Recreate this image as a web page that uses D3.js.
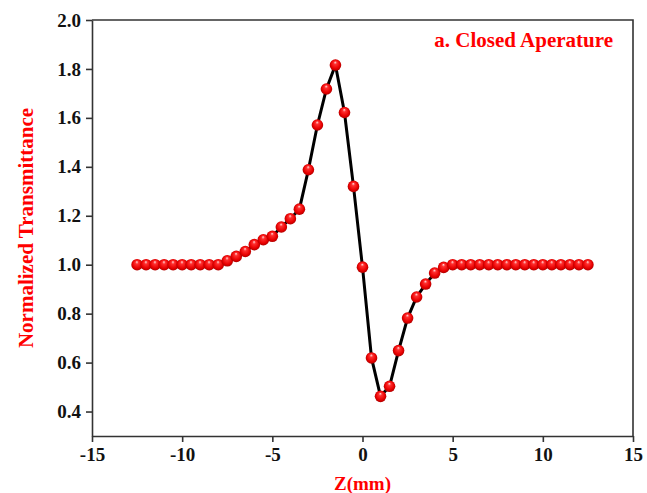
<!DOCTYPE html>
<html>
  <head>
    <meta charset="utf-8">
    <script type="text/javascript" src="https://d3js.org/d3.v7.min.js"></script>
    <title></title>
  </head>
  <style media="screen">
    body { margin: 0; background: #fff; }
    text { font-family: "Liberation Serif", "Times New Roman", serif; font-weight: bold; }
  </style>
  <body>

    <script type="text/javascript">

    // z positions (mm) and normalized transmittance
    var zValues = [-12.5, -12, -11.5, -11, -10.5, -10, -9.5, -9, -8.5, -8,
                   -7.5, -7, -6.5, -6, -5.5, -5, -4.5, -4, -3.5, -3,
                   -2.5, -2, -1.5, -1, -0.5, 0, 0.5, 1, 1.5, 2,
                   2.5, 3, 3.5, 4, 4.5, 5, 5.5, 6, 6.5, 7,
                   7.5, 8, 8.5, 9, 9.5, 10, 10.5, 11, 11.5, 12, 12.5];
    var transmittance = [1.0, 1.0, 1.0, 1.0, 1.0, 1.0, 1.0, 1.0, 1.0, 1.0,
                         1.016, 1.034, 1.054, 1.082, 1.102, 1.116, 1.154, 1.188, 1.227, 1.388,
                         1.571, 1.718, 1.816, 1.622, 1.32, 0.99, 0.619, 0.462, 0.503, 0.649,
                         0.782, 0.868, 0.921, 0.966, 0.989, 1.0, 1.0, 1.0, 1.0, 1.0,
                         1.0, 1.0, 1.0, 1.0, 1.0, 1.0, 1.0, 1.0, 1.0, 1.0, 1.0];
    var xTicks = [-15, -10, -5, 0, 5, 10, 15];
    var yTicks = [0.4, 0.6, 0.8, 1.0, 1.2, 1.4, 1.6, 1.8, 2.0];

    var data = zValues.map(function(z, i) { return {z: z, t: transmittance[i]}; });

    var margin = {top: 20, right: 14, bottom: 57, left: 92},
    width = 647 - margin.left - margin.right,
    height = 493 - margin.top - margin.bottom;

    var x = d3.scaleLinear().domain([-15, 15]).range([0, width]);
    var y = d3.scaleLinear().domain([0.3, 2.0]).range([height, 0]);

    var root = d3.select("body").append("svg")
        .attr("width", 647)
        .attr("height", 493);

    var defs = root.append("defs");
    var grad = defs.append("radialGradient")
        .attr("id", "ball")
        .attr("cx", "50%").attr("cy", "50%").attr("r", "55%")
        .attr("fx", "48%").attr("fy", "25%");
    grad.append("stop").attr("offset", "0%").attr("stop-color", "#ffe0e0");
    grad.append("stop").attr("offset", "25%").attr("stop-color", "#ff3030");
    grad.append("stop").attr("offset", "70%").attr("stop-color", "#e80000");
    grad.append("stop").attr("offset", "100%").attr("stop-color", "#a00000");

    var svg = root.append("g")
        .attr("transform", "translate(" + margin.left + "," + margin.top + ")");

    var xAxis = d3.axisBottom(x)
      .tickValues(xTicks)
      .tickSize(6)
      .tickSizeOuter(0)
      .tickFormat(function(d) { return String(d); });

    var yAxis = d3.axisLeft(y)
      .tickValues(yTicks)
      .tickSize(6)
      .tickSizeOuter(0)
      .tickFormat(d3.format(".1f"));

    var gx = svg.append("g")
        .attr("transform", "translate(0," + height + ")")
        .call(xAxis);

    var gy = svg.append("g")
        .call(yAxis);

    [gx, gy].forEach(function(g) {
      g.selectAll("path, line").attr("stroke", "#333").attr("stroke-width", 1.6);
      g.selectAll("text")
        .attr("fill", "#111")
        .style("font-size", "19px");
    });
    gx.selectAll("text").attr("y", 11).attr("dy", "0.75em");
    gy.selectAll("text").attr("x", -11);

    // top and right frame
    svg.append("path")
        .attr("d", "M0,0H" + width + "V" + height)
        .attr("fill", "none")
        .attr("stroke", "#333")
        .attr("stroke-width", 1.6);

    var line = d3.line()
      .x(function(d) { return x(d.z); })
      .y(function(d) { return y(d.t); });

    svg.append("path")
        .datum(data)
        .attr("d", line)
        .attr("fill", "none")
        .attr("stroke", "#000")
        .attr("stroke-width", 3);

    svg.selectAll(".ball")
        .data(data)
      .enter().append("circle")
        .attr("class", "ball")
        .attr("cx", function(d) { return x(d.z); })
        .attr("cy", function(d) { return y(d.t); })
        .attr("r", 5.8)
        .attr("fill", "url(#ball)");

    svg.append("text")
        .attr("x", width - 20)
        .attr("y", 27)
        .attr("text-anchor", "end")
        .attr("fill", "#ff0000")
        .style("font-size", "21px")
        .text("a. Closed Aperature");

    svg.append("text")
        .attr("x", width / 2)
        .attr("y", height + 54)
        .attr("text-anchor", "middle")
        .attr("fill", "#ff0000")
        .style("font-size", "19px")
        .text("Z(mm)");

    svg.append("text")
        .attr("transform", "translate(" + (-59) + "," + (height / 2) + ") rotate(-90)")
        .attr("text-anchor", "middle")
        .attr("fill", "#ff0000")
        .style("font-size", "21px")
        .text("Normalized Transmittance");

    </script>

  </body>
</html>
